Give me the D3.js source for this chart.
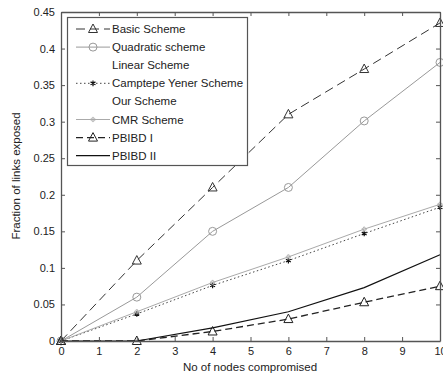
<html>
  <body style="margin:0;background:#fff">
    <style>
      text { font-family: "Liberation Sans", Arial, sans-serif; fill: #222; }
      .tick text { font-size: 11px; }
      .frame line, .frame path { stroke: #555; }
    </style>
    <script src="https://d3js.org/d3.v7.min.js"></script>
    <script>
      var nodes = [0, 2, 4, 6, 8, 10];
      var xTicks = [0, 1, 2, 3, 4, 5, 6, 7, 8, 9, 10];
      var yTicks = [0, 0.05, 0.1, 0.15, 0.2, 0.25, 0.3, 0.35, 0.4, 0.45];
      var names = ["Basic Scheme", "Quadratic scheme", "Linear Scheme", "Camptepe Yener Scheme",
                   "Our Scheme", "CMR Scheme", "PBIBD I", "PBIBD II"];
      var basic     = [0, 0.11, 0.21, 0.31, 0.372, 0.435];
      var quadratic = [0, 0.06, 0.15, 0.21, 0.301, 0.381];
      var linear    = [0, 0, 0, 0, 0, 0];
      var camptepe  = [0, 0.037, 0.076, 0.11, 0.147, 0.183];
      var ours      = [0, 0, 0, 0, 0, 0];
      var cmr       = [0, 0.04, 0.08, 0.115, 0.153, 0.187];
      var pbibd1    = [0, 0, 0.013, 0.03, 0.053, 0.075];
      var pbibd2    = [0, 0, 0.018, 0.04, 0.073, 0.118];

      var series = [
        {name: names[0], values: basic, color: "#333", dash: "9,5", width: 1, marker: "tri"},
        {name: names[1], values: quadratic, color: "#999", dash: null, width: 1, marker: "circle"},
        {name: names[2], values: linear, color: "#fff", dash: null, width: 1, marker: null},
        {name: names[3], values: camptepe, color: "#444", dash: "1.5,2.5", width: 1, marker: "star"},
        {name: names[4], values: ours, color: "#fff", dash: null, width: 1, marker: null},
        {name: names[5], values: cmr, color: "#aaa", dash: null, width: 1, marker: "plus"},
        {name: names[6], values: pbibd1, color: "#222", dash: "7,4", width: 1.3, marker: "tri"},
        {name: names[7], values: pbibd2, color: "#111", dash: null, width: 1.2, marker: null}
      ];

      var W = 443, H = 376;
      var margin = {top: 12, right: 3, bottom: 35, left: 61};
      var width = W - margin.left - margin.right,
          height = H - margin.top - margin.bottom;

      var svg = d3.select("body").append("svg").attr("width", W).attr("height", H);
      var g = svg.append("g").attr("transform", "translate(" + margin.left + "," + margin.top + ")");

      var x = d3.scaleLinear().domain([0, 10]).range([0, width]);
      var y = d3.scaleLinear().domain([0, 0.45]).range([height, 0]);

      var line = d3.line()
        .x(function(d, i) { return x(nodes[i]); })
        .y(function(d) { return y(d); });

      function drawMarker(sel, type, color, cx, cy) {
        if (type == "tri") {
          sel.append("path").attr("d", "M" + cx + "," + (cy - 5) + "L" + (cx + 4.5) + "," + (cy + 3.5) + "L" + (cx - 4.5) + "," + (cy + 3.5) + "Z")
            .attr("fill", "none").attr("stroke", color).attr("stroke-width", 1);
        } else if (type == "circle") {
          sel.append("circle").attr("cx", cx).attr("cy", cy).attr("r", 4)
            .attr("fill", "none").attr("stroke", color);
        } else if (type == "star") {
          sel.append("path").attr("d", d3.symbol(d3.symbolAsterisk, 22)())
            .attr("transform", "translate(" + cx + "," + cy + ")")
            .attr("fill", "none").attr("stroke", "#111").attr("stroke-width", 1.2);
        } else if (type == "plus") {
          sel.append("path").attr("d", d3.symbol(d3.symbolCross, 10)())
            .attr("transform", "translate(" + cx + "," + cy + ")")
            .attr("fill", "none").attr("stroke", color).attr("stroke-width", 0.8);
        }
      }

      // lines
      series.forEach(function(s) {
        g.append("path")
          .datum(s.values)
          .attr("fill", "none")
          .attr("stroke", s.color)
          .attr("stroke-width", s.width)
          .attr("stroke-dasharray", s.dash)
          .attr("d", line);
        if (s.marker) {
          s.values.forEach(function(v, i) {
            drawMarker(g, s.marker, s.color, x(nodes[i]), y(v));
          });
        }
      });

      // frame and ticks (MATLAB style, ticks inside)
      var fr = g.append("g").attr("class", "frame");
      fr.append("g").attr("transform", "translate(0," + height + ")")
        .call(d3.axisBottom(x).tickValues(xTicks).tickSize(-4).tickPadding(6).tickSizeOuter(0));
      fr.append("g")
        .call(d3.axisTop(x).tickValues(xTicks).tickSize(-4).tickFormat("").tickSizeOuter(0));
      fr.append("g")
        .call(d3.axisLeft(y).tickValues(yTicks).tickSize(-4).tickPadding(6).tickSizeOuter(0)
          .tickFormat(function(d) { return d3.format("~g")(d); }));
      fr.append("g").attr("transform", "translate(" + width + ",0)")
        .call(d3.axisRight(y).tickValues(yTicks).tickSize(-4).tickFormat("").tickSizeOuter(0));
      fr.selectAll(".domain").attr("stroke", "#555").attr("stroke-width", 1.3);

      // axis titles
      svg.append("text").attr("x", 250).attr("y", 371).attr("text-anchor", "middle")
        .attr("font-size", 11.5).text("No of nodes compromised");
      svg.append("text").attr("transform", "translate(20,176) rotate(-90)").attr("text-anchor", "middle")
        .attr("font-size", 11.5).text("Fraction of links exposed");

      // legend
      var lg = svg.append("g");
      lg.append("rect").attr("x", 67.5).attr("y", 17.5).attr("width", 180).attr("height", 148)
        .attr("fill", "#fff").attr("stroke", "#555").attr("stroke-width", 1.2);
      series.forEach(function(s, i) {
        var ly = 29 + i * 18.1;
        lg.append("line").attr("x1", 76).attr("x2", 110).attr("y1", ly).attr("y2", ly)
          .attr("stroke", s.color).attr("stroke-width", s.width).attr("stroke-dasharray", s.dash);
        if (s.marker) drawMarker(lg, s.marker, s.color, 93, ly);
        lg.append("text").attr("x", 112).attr("y", ly + 4).attr("font-size", 11.5).text(s.name);
      });
    </script>
  </body>
</html>
